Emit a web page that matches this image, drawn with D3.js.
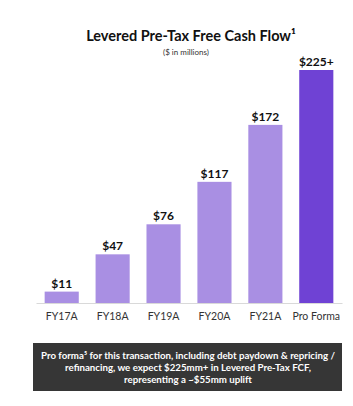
<!DOCTYPE html>
<html>
<head>
<meta charset="utf-8">
<script src="https://cdn.jsdelivr.net/npm/d3@7"></script>
<style>
  body { margin: 0; background: #fff; }
  svg { font-family: Lato, "Open Sans", sans-serif; }
</style>
</head>
<body>
<svg id="chart" width="353" height="406"></svg>
<script>
// Levered pre-tax FCF, $mm
var categories = ["FY17A", "FY18A", "FY19A", "FY20A", "FY21A", "Pro Forma"];
var values = [11, 47, 76, 117, 172, 225];
var valueLabels = ["$11", "$47", "$76", "$117", "$172", "$225+"];
var noteLines = [
  "Pro forma\u2075 for this transaction, including debt paydown & repricing /",
  "refinancing, we expect $225mm+ in Levered Pre-Tax FCF,",
  "representing a ~$55mm uplift"
];

var svg = d3.select("#chart");
var baseY = 303;

var x = d3.scaleBand()
    .domain(categories)
    .range([36, 342])
    .paddingInner(0.33)
    .paddingOuter(0.17);

var y = d3.scaleLinear()
    .domain([0, 225])
    .range([baseY, 70]);

// title
svg.append("text")
    .attr("x", 191).attr("y", 41)
    .attr("text-anchor", "middle")
    .attr("font-size", 14.5).attr("font-weight", 700)
    .attr("fill", "#111")
    .text("Levered Pre-Tax Free Cash Flow\u00b9");

svg.append("text")
    .attr("x", 186).attr("y", 54.5)
    .attr("text-anchor", "middle")
    .attr("font-size", 8)
    .attr("fill", "#333")
    .text("($ in millions)");

// bars
svg.selectAll("rect.bar")
    .data(values)
  .enter().append("rect")
    .attr("class", "bar")
    .attr("x", function(d, i) { return x(categories[i]); })
    .attr("width", x.bandwidth())
    .attr("y", function(d) { return y(d); })
    .attr("height", function(d) { return baseY - y(d); })
    .attr("fill", function(d, i) { return i == values.length - 1 ? "#6f42d4" : "#a98fe3"; });

svg.selectAll("text.val")
    .data(values)
  .enter().append("text")
    .attr("class", "val")
    .attr("x", function(d, i) { return x(categories[i]) + x.bandwidth() / 2; })
    .attr("y", function(d) { return y(d) - 4; })
    .attr("text-anchor", "middle")
    .attr("font-size", 12).attr("font-weight", 700)
    .attr("fill", "#111")
    .text(function(d, i) { return valueLabels[i]; });

// axis
var xAxis = d3.axisBottom(x).tickSize(0).tickPadding(10);
var gx = svg.append("g")
    .attr("transform", "translate(0," + baseY + ")")
    .call(xAxis);
gx.select(".domain").attr("stroke", "#d9d9d9").attr("stroke-width", 1.2);
gx.selectAll("text")
    .attr("font-family", "Lato, sans-serif")
    .attr("font-size", 10.5)
    .attr("fill", "#333");

// note box
svg.append("rect")
    .attr("x", 33).attr("y", 343)
    .attr("width", 309).attr("height", 48)
    .attr("fill", "#363636");

svg.selectAll("text.note")
    .data(noteLines)
  .enter().append("text")
    .attr("class", "note")
    .attr("x", 188)
    .attr("y", function(d, i) { return 359 + i * 12; })
    .attr("text-anchor", "middle")
    .attr("font-size", 9.7).attr("font-weight", 700)
    .attr("fill", "#fff")
    .text(function(d) { return d; });
</script>
</body>
</html>
